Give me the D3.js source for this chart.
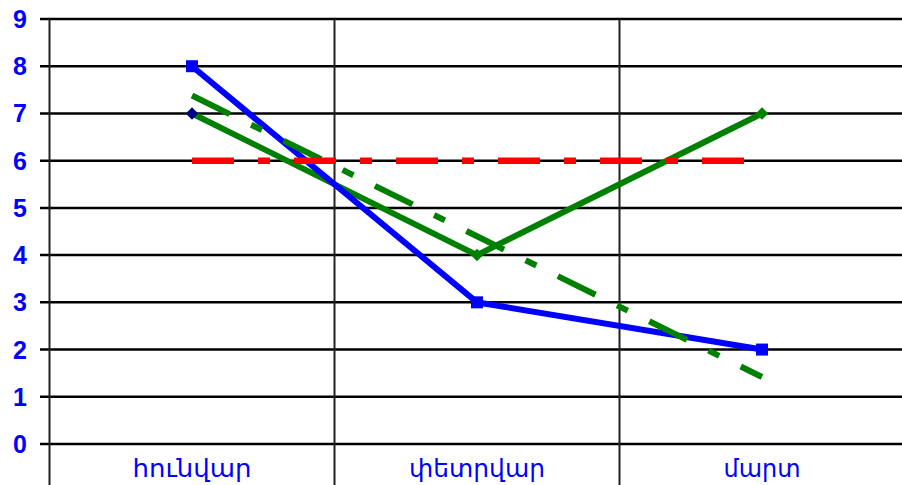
<!DOCTYPE html>
<html><head><meta charset="utf-8">
<script src="https://cdn.jsdelivr.net/npm/d3@7"></script>
<style>html,body{margin:0;padding:0;background:#fff;}svg{display:block;}</style>
</head><body>
<script>
const categories = ["հունվար", "փետրվար", "մարտ"];
const blueValues = [8, 3, 2];
const greenValues = [7, 4, 7];
const trendValues = [7.38, 4.4, 1.42];
const averageValues = [6, 6, 6];
const yTicks = [0, 1, 2, 3, 4, 5, 6, 7, 8, 9];

const W = 902, H = 485;
const svg = d3.select("body").append("svg").attr("width", W).attr("height", H);

const x = d3.scaleBand().domain(categories).range([49.5, 904.5]);
const y = d3.scaleLinear().domain([0, 9]).range([444, 19]);
const cx = c => x(c) + x.bandwidth() / 2;

// horizontal gridlines with tick stubs
svg.append("g").selectAll("line").data(yTicks).join("line")
  .attr("x1", 40).attr("x2", W)
  .attr("y1", d => y(d)).attr("y2", d => y(d))
  .attr("stroke", "#000").attr("stroke-width", 2.5);

// vertical category separators (including axis)
const seps = categories.map(c => x(c));
svg.append("g").selectAll("line").data(seps).join("line")
  .attr("x1", d => d).attr("x2", d => d)
  .attr("y1", y(9)).attr("y2", H)
  .attr("stroke", "#222").attr("stroke-width", 2);

// y labels
svg.append("g").selectAll("text").data(yTicks).join("text")
  .attr("x", 27).attr("y", d => y(d)).attr("dy", "0.36em")
  .attr("text-anchor", "end")
  .attr("font-family", "Liberation Sans, Arial, sans-serif")
  .attr("font-weight", "bold").attr("font-size", 25)
  .attr("fill", "#0000ff").text(d => d);

// category labels
const labelWidths = [119, 136, 77];
svg.append("g").selectAll("text").data(categories).join("text")
  .attr("x", d => cx(d)).attr("y", 477)
  .attr("text-anchor", "middle")
  .attr("font-family", "DejaVu Sans, sans-serif")
  .attr("font-size", 24)
  .attr("textLength", (d, i) => labelWidths[i])
  .attr("lengthAdjust", "spacingAndGlyphs")
  .attr("fill", "#0000ff").text(d => d);

const line = d3.line().x(d => cx(d[0])).y(d => y(d[1]));
const zip = vals => categories.map((c, i) => [c, vals[i]]);

// green solid series
svg.append("path").datum(zip(greenValues)).attr("d", line)
  .attr("fill", "none").attr("stroke", "#008000").attr("stroke-width", 6);
// blue series
svg.append("path").datum(zip(blueValues)).attr("d", line)
  .attr("fill", "none").attr("stroke", "#0000ff").attr("stroke-width", 6);

// trend dashed
svg.append("path").datum(zip(trendValues)).attr("d", line)
  .attr("fill", "none").attr("stroke", "#008000").attr("stroke-width", 6)
  .attr("stroke-dasharray", "42 24 12 24");
// average dashed red
svg.append("path").datum(zip(averageValues)).attr("d", line)
  .attr("fill", "none").attr("stroke", "#ff0000").attr("stroke-width", 6.5)
  .attr("stroke-dasharray", "42 24 12 24");

// markers
svg.append("g").selectAll("path").data(zip(greenValues)).join("path")
  .attr("d", d3.symbol(d3.symbolDiamond2, 100))
  .attr("transform", d => `translate(${cx(d[0])},${y(d[1])})`)
  .attr("fill", (d, i) => i === 0 ? "#000080" : "#008000");
svg.append("g").selectAll("rect").data(zip(blueValues)).join("rect")
  .attr("x", d => cx(d[0]) - 6).attr("y", d => y(d[1]) - 6)
  .attr("width", 12).attr("height", 12).attr("fill", "#0000ff");
</script>
</body></html>
